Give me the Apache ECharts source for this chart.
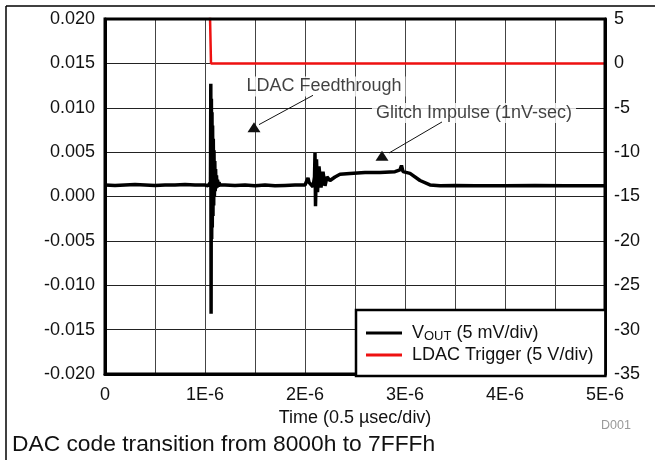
<!DOCTYPE html>
<html>
<head>
<meta charset="utf-8">
<script src="https://cdn.jsdelivr.net/npm/echarts@6/dist/echarts.min.js"></script>
<style>
  html, body { margin: 0; padding: 0; background: #fff; }
  #chart { width: 661px; height: 460px; }
</style>
</head>
<body>
<div id="chart"></div>
<script>
// time in microseconds, VOUT in volts (left axis)
const voutTime = [
  0, 0.1, 0.2, 0.3, 0.4, 0.5, 0.6, 0.7, 0.8, 0.9, 1.0, 1.03, 1.045, 1.05,
  1.055, 1.058, 1.061, 1.064, 1.067, 1.070, 1.073, 1.076, 1.080, 1.083, 1.087,
  1.090, 1.094, 1.098, 1.102, 1.106, 1.110, 1.115, 1.12, 1.125, 1.133, 1.14,
  1.15, 1.17, 1.2, 1.3, 1.4, 1.5, 1.6, 1.7, 1.8, 1.9, 2.0, 2.02, 2.03, 2.04,
  2.06, 2.08, 2.095, 2.1, 2.105, 2.115, 2.125, 2.14, 2.16, 2.18, 2.2, 2.22,
  2.25, 2.3, 2.35, 2.45, 2.6, 2.75, 2.9, 2.95, 2.965, 2.98, 3.05, 3.15, 3.25,
  3.35, 3.5, 3.7, 4.0, 4.3, 4.6, 5.0
];
const voutValue = [
  0.0013, 0.00125, 0.0013, 0.00135, 0.0013, 0.00125, 0.0013, 0.0013, 0.00135, 0.0013, 0.0013, 0.0012, 0.0014, 0.0011,
  0.0016, 0.0127, -0.0132, 0.011, -0.0048, 0.0095, -0.0035, 0.008, -0.0022, 0.0065, -0.001,
  0.0052, 0.0, 0.004, 0.0006, 0.0031, 0.0009, 0.0024, 0.001, 0.0019, 0.0011, 0.0016,
  0.0013, 0.0012, 0.0013, 0.00125, 0.0013, 0.0012, 0.0013, 0.0012, 0.00125, 0.0013, 0.0013, 0.0014, 0.0021, 0.0016,
  0.0014, 0.0011, 0.0022, 0.0049, -0.0011, 0.0042, 0.0005, 0.0034, 0.001, 0.0028, 0.0012, 0.0022,
  0.0018, 0.0022, 0.0025, 0.0026, 0.0027, 0.0027, 0.0028, 0.003, 0.0035, 0.0028, 0.0026, 0.0018, 0.0013,
  0.0012, 0.00125, 0.0012, 0.0012, 0.00125, 0.0012, 0.0012
];
// LDAC trigger in volts (right axis), high level is off the top of the scale
const trigTime = [1.045, 1.06, 5.0];
const trigValue = [8, 0, 0];

const xTicks = ['0', '1E-6', '2E-6', '3E-6', '4E-6', '5E-6'];

const chart = echarts.init(document.getElementById('chart'));
const font = 'Liberation Sans, Arial, sans-serif';
const ink = '#111';

chart.setOption({
  animation: false,
  textStyle: { fontFamily: font },
  grid: { left: 105, right: 56, top: 19, bottom: 86, show: true, borderColor: '#000', borderWidth: 3, z: 5 },
  xAxis: {
    type: 'value', min: 0, max: 5, interval: 0.5,
    name: 'Time (0.5 \u00b5sec/div)', nameLocation: 'middle', nameGap: 32,
    nameTextStyle: { fontSize: 18, color: ink, fontFamily: font },
    axisLine: { onZero: false, lineStyle: { color: '#000', width: 3 } },
    axisTick: { show: false },
    axisLabel: {
      fontSize: 18, color: ink, margin: 12,
      formatter: v => Number.isInteger(v) ? xTicks[v] : ''
    },
    splitLine: { lineStyle: { color: '#444', width: 1 } }
  },
  yAxis: [{
    type: 'value', min: -0.02, max: 0.02, interval: 0.005,
    axisLine: { show: true, onZero: false, lineStyle: { color: '#000', width: 3 } },
    axisTick: { show: false },
    axisLabel: { fontSize: 18, color: ink, margin: 10, formatter: v => v.toFixed(3) },
    splitLine: { lineStyle: { color: '#222', width: 1 } }
  }, {
    type: 'value', min: -35, max: 5, interval: 5, position: 'right',
    axisLine: { show: true, onZero: false, lineStyle: { color: '#000', width: 3 } },
    axisTick: { show: false },
    axisLabel: { fontSize: 18, color: ink, margin: 9 },
    splitLine: { show: false }
  }],
  legend: {
    orient: 'vertical', left: 356, top: 310,
    padding: [13, 12, 12, 10], itemGap: 3, itemWidth: 36, itemHeight: 3,
    backgroundColor: '#fff', borderColor: '#000', borderWidth: 2.5,
    icon: 'rect', selectedMode: false, z: 10,
    formatter: name => name === 'VOUT' ? '{f|V}{s|OUT}{a| (5 mV/div)}' : '{f|' + name + '}',
    textStyle: {
      color: ink, fontSize: 18,
      rich: {
        f: { fontSize: 18, color: ink, fontFamily: font, padding: [0, 0, 0, 5], lineHeight: 18 },
        a: { fontSize: 18, color: ink, fontFamily: font, lineHeight: 18 },
        s: { fontSize: 13, color: ink, fontFamily: font, padding: [7, 0, 0, 0], lineHeight: 18 }
      }
    },
    data: ['VOUT', 'LDAC Trigger (5 V/div)']
  },
  series: [{
    name: 'VOUT', type: 'line', yAxisIndex: 0, symbol: 'none',
    lineStyle: { color: '#000', width: 3.5 }, itemStyle: { color: '#000' },
    data: voutTime.map((t, i) => [t, voutValue[i]]),
    markPoint: {
      silent: true, symbol: 'triangle', symbolSize: [13, 10],
      itemStyle: { color: '#111' }, label: { show: false },
      data: [{ coord: [1.49, 0.0078] }, { coord: [2.77, 0.0046] }]
    },
    markLine: {
      silent: true, symbol: 'none', label: { show: false },
      lineStyle: { color: '#111', width: 1, type: 'solid' },
      data: [
        [{ coord: [2.08, 0.0114] }, { coord: [1.54, 0.0081] }],
        [{ coord: [3.37, 0.0084] }, { coord: [2.84, 0.0049] }]
      ]
    }
  }, {
    name: 'LDAC Trigger (5 V/div)', type: 'line', yAxisIndex: 1, symbol: 'none', clip: true,
    lineStyle: { color: '#ee1111', width: 2.5 }, itemStyle: { color: '#ee1111' },
    data: trigTime.map((t, i) => [t, trigValue[i]])
  }, {
    // annotation texts with white backing
    type: 'scatter', yAxisIndex: 0, symbolSize: 0, silent: true, z: 4,
    label: {
      show: true, position: 'inside', fontSize: 18, color: ink, fontFamily: font,
      backgroundColor: '#fff', padding: [1, 4],
      formatter: p => p.data[2]
    },
    data: [[2.19, 0.0124, 'LDAC Feedthrough'], [3.69, 0.0094, 'Glitch Impulse (1nV-sec)']]
  }],
  graphic: [
    { type: 'line', shape: { x1: 6, y1: 6, x2: 655, y2: 6 }, style: { stroke: '#000', lineWidth: 1.5 } },
    { type: 'line', shape: { x1: 6, y1: 6, x2: 6, y2: 460 }, style: { stroke: '#000', lineWidth: 1.5 } },
    { type: 'text', left: 601, top: 419, style: { text: 'D001', fontSize: 12.5, fill: '#999', fontFamily: font } },
    { type: 'text', left: 12, top: 433, style: { text: 'DAC code transition from 8000h to 7FFFh', fontSize: 22.8, fill: ink, fontFamily: font } }
  ]
});
</script>
</body>
</html>
